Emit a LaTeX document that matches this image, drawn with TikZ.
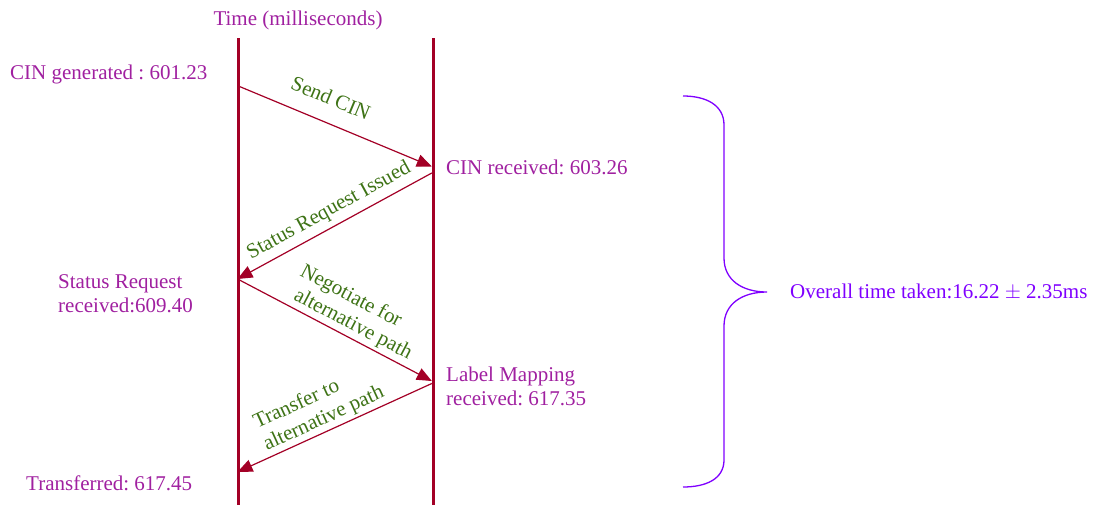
\documentclass[tikz,border=0pt]{standalone}
\usepackage{fontspec}
\setmainfont{Liberation Serif}
\usetikzlibrary{arrows.meta}
\definecolor{lifered}{RGB}{163,0,38}
\definecolor{evtpurple}{RGB}{160,32,160}
\definecolor{msggreen}{RGB}{62,115,22}
\definecolor{bracecol}{RGB}{127,0,255}
\frenchspacing
\begin{document}
\begin{tikzpicture}[x=1pt,y=-1pt,
  lifeline/.style={draw=lifered, line width=2.8pt},
  msg/.style={draw=lifered, line width=1.2pt, -{Triangle[length=15pt,width=12.5pt]}},
  evt/.style={text=evtpurple, font=\fontsize{21}{24}\selectfont, inner sep=0pt},
  lbl/.style={text=msggreen, font=\fontsize{21}{24}\selectfont, inner sep=0pt, align=left},
  total/.style={text=bracecol, font=\fontsize{21}{24}\selectfont, inner sep=0pt},
  bracepath/.style={draw=bracecol, line width=1.3pt}]
\useasboundingbox (0,0) rectangle (1102,504);

% the two lifelines
\coordinate (ltop) at (238.7,38);
\coordinate (lbot) at (238.7,505);
\coordinate (rtop) at (433.3,38);
\coordinate (rbot) at (433.3,505);
\draw[lifeline] (ltop) -- (lbot);
\draw[lifeline] (rtop) -- (rbot);

% message end points on the lifelines
\coordinate (L1) at (239.5,86.5);
\coordinate (R1) at (431.8,166.5);
\coordinate (R2) at (431.8,173);
\coordinate (L2) at (237.5,279);
\coordinate (L3) at (239.5,280);
\coordinate (R3) at (431.8,381);
\coordinate (R4) at (431.8,383.5);
\coordinate (L4) at (237.5,472);

\draw[msg] (L1) -- (R1);
\draw[msg] (R2) -- (L2);
\draw[msg] (L3) -- (R3);
\draw[msg] (R4) -- (L4);

% message labels
\node[lbl, rotate=-22.6] (m1) at (331,98) {Send CIN};
\node[lbl, rotate=28.7] (m2) at (329,211) {Status Request Issued};
\node[lbl, rotate=-27.7] (m3) at (356,313) {Negotiate for\\\hspace*{5.5pt}alternative path};
\node[lbl, rotate=24.6] (m4) at (319,408) {Transfer to\\alternative path};

% event times
\node[evt, anchor=base] (title) at (298,25) {Time (milliseconds)};
\node[evt, anchor=base west] (gen) at (10,79) {CIN generated : 601.23};
\node[evt, anchor=base west] (rcv) at (446,174) {CIN received: 603.26};
\node[evt, anchor=west, align=left] (srr) at (58,294) {Status Request\\received:609.40};
\node[evt, anchor=west, align=left] (lmr) at (446,386) {Label Mapping\\received: 617.35};
\node[evt, anchor=base west] (done) at (26,490) {Transferred: 617.45};

% overall brace and total
\draw[bracepath] (683,96) .. controls (706,96) and (724,105) .. (724,125)
  -- (724,258) .. controls (724,280) and (742,292) .. (767,292)
  .. controls (742,292) and (724,304) .. (724,326)
  -- (724,460) .. controls (724,479) and (706,487) .. (683,487);
\node[total, anchor=base west] (overall) at (790,298) {Overall time taken:16.22 $\pm$ 2.35ms};
\end{tikzpicture}
\end{document}
